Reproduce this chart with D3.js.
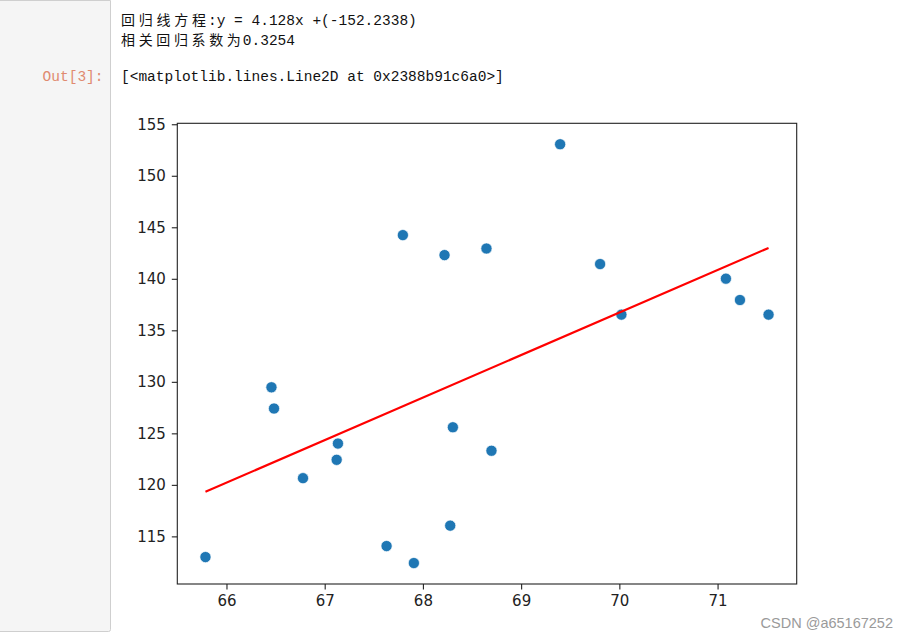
<!DOCTYPE html>
<html>
<head>
<meta charset="utf-8">
<script src="https://cdn.jsdelivr.net/npm/d3@7/dist/d3.min.js"></script>
<style>
  html, body { margin: 0; padding: 0; background: #ffffff; }
  svg { display: block; }
</style>
</head>
<body>
<svg id="page" width="909" height="638"></svg>
<script>
// ---- data ----
const heightX = [65.786, 66.458, 66.484, 66.779, 67.135, 67.122, 67.630, 67.908, 68.305, 68.278,
                 68.698, 67.796, 68.220, 68.647, 69.397, 69.804, 70.021, 71.085, 71.228, 71.519];
const weightY = [112.99, 129.47, 127.41, 120.65, 124.01, 122.43, 114.06, 112.41, 125.59, 116.04,
                 123.31, 144.24, 142.30, 142.94, 153.06, 141.43, 136.52, 140.01, 137.94, 136.52];
const slope = 4.128;
const intercept = -152.2338;
const xTicks = [66, 67, 68, 69, 70, 71];
const yTicks = [115, 120, 125, 130, 135, 140, 145, 150, 155];
const outputLines = ["回归线方程:y = 4.128x +(-152.2338)", "相关回归系数为0.3254"];
const reprLine = "[<matplotlib.lines.Line2D at 0x2388b91c6a0>]";
const promptText = "Out[3]:";
const watermark = "CSDN @a65167252";

const svg = d3.select("#page");

// ---- notebook prompt panel ----
svg.append("path")
  .attr("d", "M-2,0.5 H110.5 V629.5 Q110.5,631.5 108.5,631.5 H-2")
  .attr("fill", "#f5f5f5")
  .attr("stroke", "#cfcfcf")
  .attr("stroke-width", 1);

// ---- monospace text helper (CJK chars are double width) ----
const CW = 8.7;
const isWide = ch => /[\u3000-\u9fff\uff00-\uffef]/.test(ch);
function monoText(str, x0, y) {
  const t = svg.append("text").attr("y", y).attr("fill", "#111");
  const runs = [];
  for (const ch of str) {
    const w = isWide(ch);
    if (runs.length && runs[runs.length - 1].w === w) runs[runs.length - 1].s += ch;
    else runs.push({ w, s: ch });
  }
  let x = x0;
  runs.forEach(r => {
    const n = [...r.s].length * (r.w ? 2 : 1);
    t.append("tspan")
      .attr("x", x)
      .attr("font-family", r.w ? "'Noto Sans CJK SC'" : "'Liberation Mono', monospace")
      .attr("font-size", r.w ? 14 : 14.5)
      .attr("textLength", n * CW - (r.w ? 2 : 0))
      .attr("lengthAdjust", "spacing")
      .text(r.s);
    x += n * CW;
  });
  return t;
}
monoText(outputLines[0], 121, 24.5);
monoText(outputLines[1], 121, 45);
monoText(reprLine, 121, 81);
svg.append("text")
  .attr("x", 103.5).attr("y", 81)
  .attr("text-anchor", "end")
  .attr("font-family", "'Liberation Mono', monospace")
  .attr("font-size", 14.5)
  .attr("fill", "#e08a6f")
  .text(promptText);

// ---- chart ----
const L = 177.3, R = 796.7, T = 123.3, B = 584;
const [xmin, xmax] = d3.extent(heightX);
const [ymin, ymax] = d3.extent(weightY);
const mx = (xmax - xmin) * 0.05, my = (ymax - ymin) * 0.05;
const x = d3.scaleLinear().domain([xmin - mx, xmax + mx]).range([L, R]);
const y = d3.scaleLinear().domain([ymin - my, ymax + my]).range([B, T]);

const g = svg.append("g");

// scatter points
g.selectAll("circle.pt").data(heightX.map((v, i) => [v, weightY[i]]))
  .enter().append("circle")
  .attr("class", "pt")
  .attr("cx", d => x(d[0]))
  .attr("cy", d => y(d[1]))
  .attr("r", 5.6)
  .attr("fill", "#1f77b4")
  .attr("stroke", "#ffffff")
  .attr("stroke-width", 0.7);

// regression line
const lineX = [xmin, xmax];
g.append("path")
  .datum(lineX.map(v => [v, slope * v + intercept]))
  .attr("d", d3.line().x(d => x(d[0])).y(d => y(d[1])))
  .attr("fill", "none")
  .attr("stroke", "#ff0000")
  .attr("stroke-width", 2.1);

// axes
const fontFam = "'DejaVu Sans', sans-serif";
const xAxis = g.append("g").attr("transform", `translate(0,${B})`)
  .call(d3.axisBottom(x).tickValues(xTicks).tickFormat(d3.format("d")).tickSize(5.5).tickPadding(6));
const yAxis = g.append("g").attr("transform", `translate(${L},0)`)
  .call(d3.axisLeft(y).tickValues(yTicks).tickFormat(d3.format("d")).tickSize(5.5).tickPadding(6));
[xAxis, yAxis].forEach(a => {
  a.select(".domain").remove();
  a.selectAll(".tick line").attr("stroke", "#222").attr("stroke-width", 1.1);
  a.selectAll(".tick text").attr("font-family", fontFam).attr("font-size", 15).attr("fill", "#222");
});

// frame
g.append("rect")
  .attr("x", L).attr("y", T).attr("width", R - L).attr("height", B - T)
  .attr("fill", "none").attr("stroke", "#222").attr("stroke-width", 1.1);

// watermark
svg.append("text")
  .attr("x", 893).attr("y", 628)
  .attr("text-anchor", "end")
  .attr("font-family", "'Liberation Sans', Arial, sans-serif")
  .attr("font-size", 14.5)
  .attr("fill", "#9a9a9a")
  .text(watermark);
</script>
</body>
</html>
